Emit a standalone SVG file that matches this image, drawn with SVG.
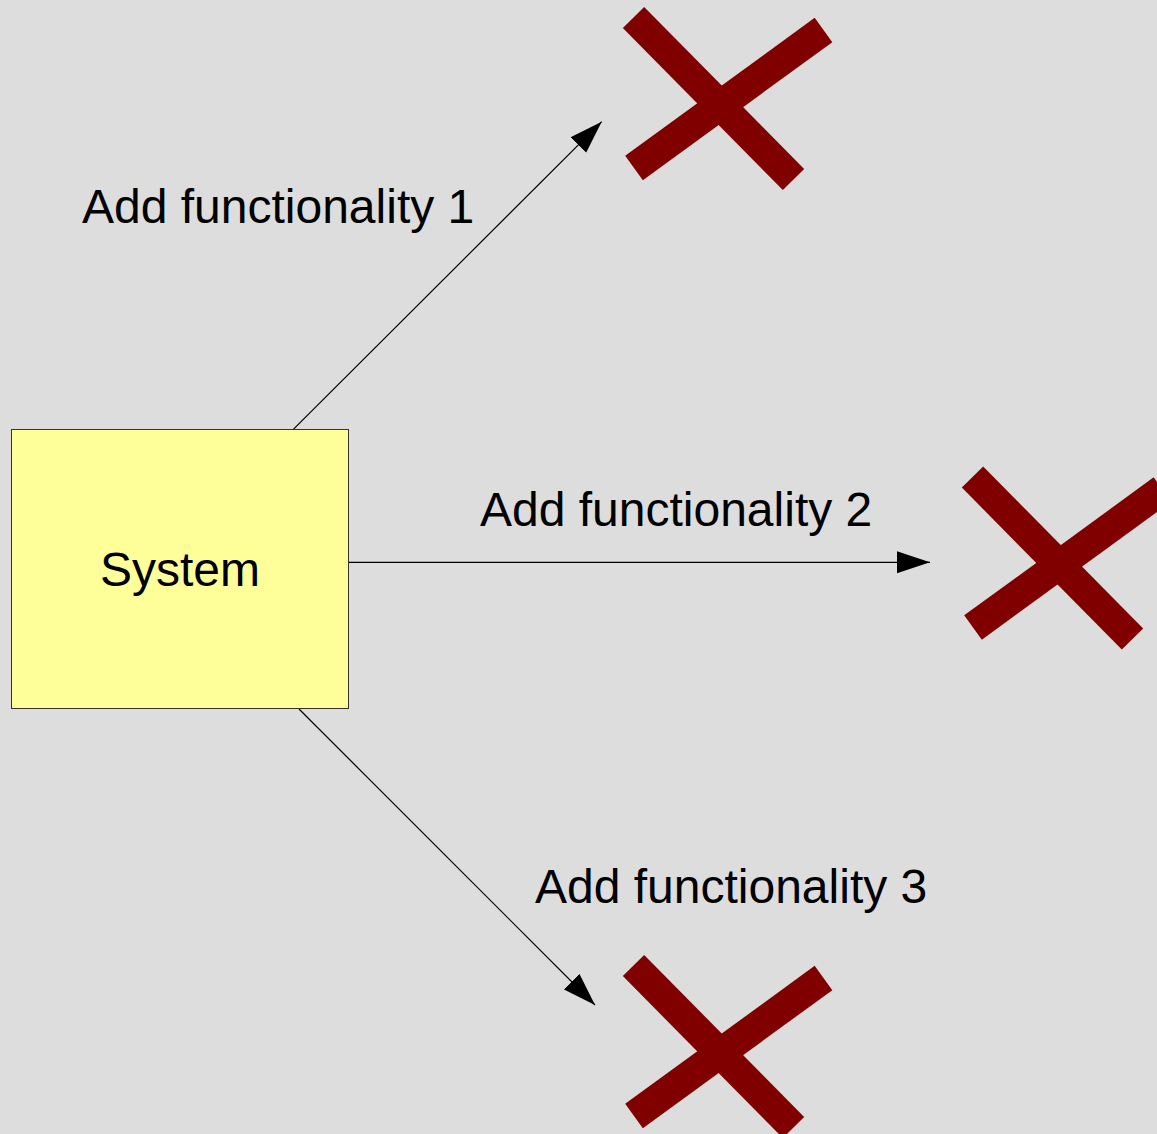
<svg xmlns="http://www.w3.org/2000/svg" width="1157" height="1134" viewBox="0 0 1157 1134">
  <style>
    .label { font-family: "Liberation Sans", Arial, sans-serif; font-size: 48px; fill: #000; }
    .conn { stroke: #000; stroke-width: 1.2; fill: none; marker-end: url(#arrow); }
    .bar { stroke: #800000; stroke-width: 30; stroke-linecap: butt; }
  </style>
  <defs>
    <marker id="arrow" markerUnits="userSpaceOnUse" markerWidth="34" markerHeight="24" refX="33" refY="11" orient="auto" viewBox="0 0 34 22">
      <path d="M0,0 L33,11 L0,22 Z" fill="#000"/>
    </marker>
    <g id="cross">
      <line class="bar" x1="633.5" y1="17.5" x2="793.5" y2="179.5"/>
      <line class="bar" x1="634" y1="168" x2="823.5" y2="30"/>
    </g>
  </defs>

  <rect width="1157" height="1134" fill="#dddddd"/>

  <g id="connectors">
    <line class="conn" x1="293.3" y1="429.3" x2="601.7" y2="121.7"/>
    <line class="conn" x1="349" y1="562.3" x2="930" y2="562.3"/>
    <line class="conn" x1="299" y1="709" x2="595" y2="1005"/>
  </g>

  <g id="system">
    <rect x="11.5" y="429.5" width="337" height="279" fill="#ffff99" stroke="#333" stroke-width="1"/>
    <text class="label" x="180" y="586" text-anchor="middle">System</text>
  </g>

  <g id="label1">
    <text class="label" x="82" y="223">Add functionality 1</text>
  </g>
  <g id="label2">
    <text class="label" x="480" y="526">Add functionality 2</text>
  </g>
  <g id="label3">
    <text class="label" x="535" y="903">Add functionality 3</text>
  </g>

  <g id="fail1">
    <use href="#cross"/>
  </g>
  <g id="fail2">
    <use href="#cross" transform="translate(339,459.5)"/>
  </g>
  <g id="fail3">
    <use href="#cross" transform="translate(0,948)"/>
  </g>
</svg>
